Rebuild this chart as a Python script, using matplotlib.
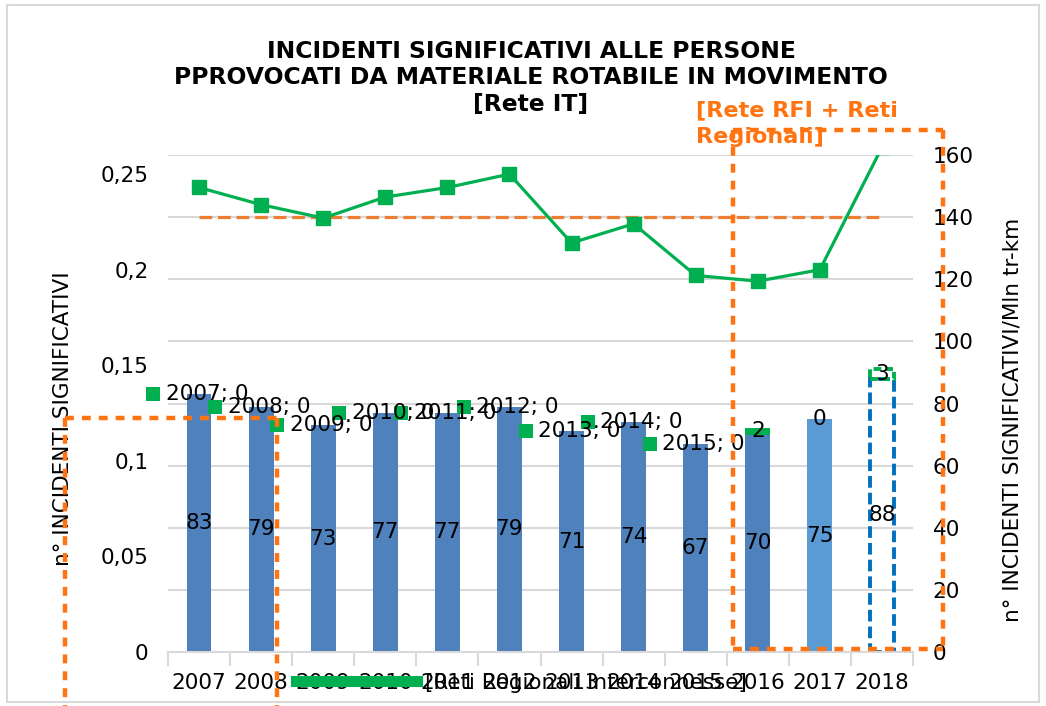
import numpy as np
import matplotlib
matplotlib.use("Agg")
import matplotlib.pyplot as plt
from matplotlib.lines import Line2D
from matplotlib.patches import Rectangle

# data
years = [2007, 2008, 2009, 2010, 2011, 2012, 2013, 2014, 2015, 2016, 2017, 2018]
incidenti = [83, 79, 73, 77, 77, 79, 71, 74, 67, 70, 75, 88]
reti_regionali = [0, 0, 0, 0, 0, 0, 0, 0, 0, 2, 0, 3]
tasso = [0.243, 0.234, 0.227, 0.238, 0.243, 0.250, 0.214, 0.224, 0.197, 0.194, 0.200, 0.264]
obiettivo = 140
marker_labels = ["2007; 0", "2008; 0", "2009; 0", "2010; 0", "2011; 0", "2012; 0",
                 "2013; 0", "2014; 0", "2015; 0"]
left_ticks = [0, 0.05, 0.10, 0.15, 0.20, 0.25]
left_ticklabels = ["0", "0,05", "0,1", "0,15", "0,2", "0,25"]
right_ticks = [0, 20, 40, 60, 80, 100, 120, 140, 160]

BLUE = "#4F81BD"
BLUE_LIGHT = "#5B9BD5"
GREEN = "#00B050"
ORANGE = "#ED7D31"
ORANGE_BOX = "#FF7410"
GRID = "#D9D9D9"
FS = 15.5

W, H = 1046, 706
fig = plt.figure(figsize=(W / 100, H / 100), dpi=100)
x = np.arange(len(years))

ax = fig.add_axes([168 / W, 54 / H, 745 / W, 497 / H])
ax2 = ax.twinx()
ax.set_zorder(2)
ax.patch.set_visible(False)

# bars (right axis)
for i, v in enumerate(incidenti):
    if i < 10:
        ax2.bar(x[i], v, width=0.4, color=BLUE, zorder=2)
    elif i == 10:
        ax2.bar(x[i], v, width=0.4, color=BLUE_LIGHT, zorder=2)
    else:
        ax2.bar(x[i], v, width=0.4, facecolor="none", edgecolor="#0070C0",
                lw=2.8, ls=(0, (3, 1.3)), zorder=2)
    ax2.text(x[i], v / 2, str(v), ha="center", va="center", fontsize=FS, zorder=5)

# stacked regional segment
for i in range(9, 12):
    r = reti_regionali[i]
    if i == 9:
        ax2.bar(x[i], r, bottom=incidenti[i], width=0.4, color=GREEN, zorder=2)
    elif i == 11:
        ax2.bar(x[i], r, bottom=incidenti[i], width=0.4, facecolor="none",
                edgecolor=GREEN, lw=2.8, ls=(0, (2, 1)), zorder=2)
    ax2.text(x[i], incidenti[i] + r / 2, str(r), ha="center", va="center",
             fontsize=FS, zorder=5)

# scatter markers with "year; 0" labels
mx = x[:9] - 0.74
ax2.scatter(mx, incidenti[:9], marker="s", s=110, color=GREEN, zorder=4,
            linewidths=0, clip_on=False)
for xi, yi, lab in zip(mx, incidenti[:9], marker_labels):
    ax2.annotate(lab, (xi, yi), xytext=(9, 0), textcoords="offset points",
                 va="center", ha="left", fontsize=FS, zorder=5, annotation_clip=False)

# target line
ax2.plot(x, [obiettivo] * len(x), color=ORANGE, lw=2.3, dashes=(4, 1.8), zorder=3)

# rate line (left axis)
ax.plot(x, tasso, color=GREEN, lw=2.3, marker="s", ms=10, zorder=3)

ax.set_xlim(-0.5, 11.5)
ax.set_ylim(0, 0.26)
ax2.set_ylim(0, 160)

ax.set_yticks(left_ticks)
ax.set_yticklabels(left_ticklabels)
ax2.set_yticks(right_ticks)
ax2.grid(axis="y", color=GRID, lw=1.5, zorder=0)
ax2.set_axisbelow(True)

ax.set_xticks(x)
ax.set_xticklabels([str(y) for y in years])
ax.set_xticks(np.arange(-0.5, 12, 1), minor=True)
ax.tick_params(axis="x", which="major", length=0, pad=15, labelsize=FS)
ax.tick_params(axis="x", which="minor", length=10, width=1.5, color=GRID)
ax.tick_params(axis="y", length=0, pad=14, labelsize=FS)
ax2.tick_params(axis="y", length=0, pad=14, labelsize=FS)

for a in (ax, ax2):
    for s in ("left", "right", "top"):
        a.spines[s].set_visible(False)
    a.spines["bottom"].set_color(GRID)
    a.spines["bottom"].set_linewidth(1.5)
ax2.spines["bottom"].set_visible(False)

ax.set_ylabel("n° INCIDENTI SIGNIFICATIVI", fontsize=FS)
ax.yaxis.set_label_coords(73 / W, 1 - 419 / H, transform=fig.transFigure)
ax2.set_ylabel("n° INCIDENTI SIGNIFICATIVI/Mln tr-km", fontsize=FS)
ax2.yaxis.set_label_coords(1003 / W, 1 - 420 / H, transform=fig.transFigure)

fig.text(531 / W, 1 - 78 / H,
         "INCIDENTI SIGNIFICATIVI ALLE PERSONE\nPPROVOCATI DA MATERIALE ROTABILE IN MOVIMENTO\n[Rete IT]",
         ha="center", va="center", fontsize=16.9, fontweight="bold", linespacing=1.22)

fig.text(696 / W, 1 - 124 / H, "[Rete RFI + Reti\nRegionali]", ha="left", va="center",
         fontsize=16.1, fontweight="bold", color=ORANGE_BOX, linespacing=1.42)

# legend
leg = fig.legend(handles=[Line2D([], [], color=GREEN, lw=8)],
                 labels=["[Reti Regionali Interconnesse]"],
                 loc="center left", bbox_to_anchor=(296 / W, 1 - 683 / H),
                 frameon=False, fontsize=FS, handlelength=5.6, handletextpad=0.4,
                 borderpad=0, borderaxespad=0)

# orange dotted highlight boxes (figure coords)
def fline(xs, ys):
    fig.add_artist(Line2D([v / W for v in xs], [1 - v / H for v in ys],
                          color=ORANGE_BOX, lw=3.2, dashes=(2, 1.8), zorder=10))

fline([65, 277], [418, 418])
fline([65, 65], [418, 706])
fline([277, 277], [418, 706])
fline([733, 943], [130, 130])
fline([733, 943], [649, 649])
fline([733, 733], [130, 649])
fline([943, 943], [130, 649])

# outer chart frame
fig.add_artist(Rectangle((7 / W, 1 - 702 / H), 1032 / W, 697 / H, transform=fig.transFigure,
                         facecolor="none", edgecolor=GRID, lw=1.5))

fig.savefig("out.png", dpi=100)
